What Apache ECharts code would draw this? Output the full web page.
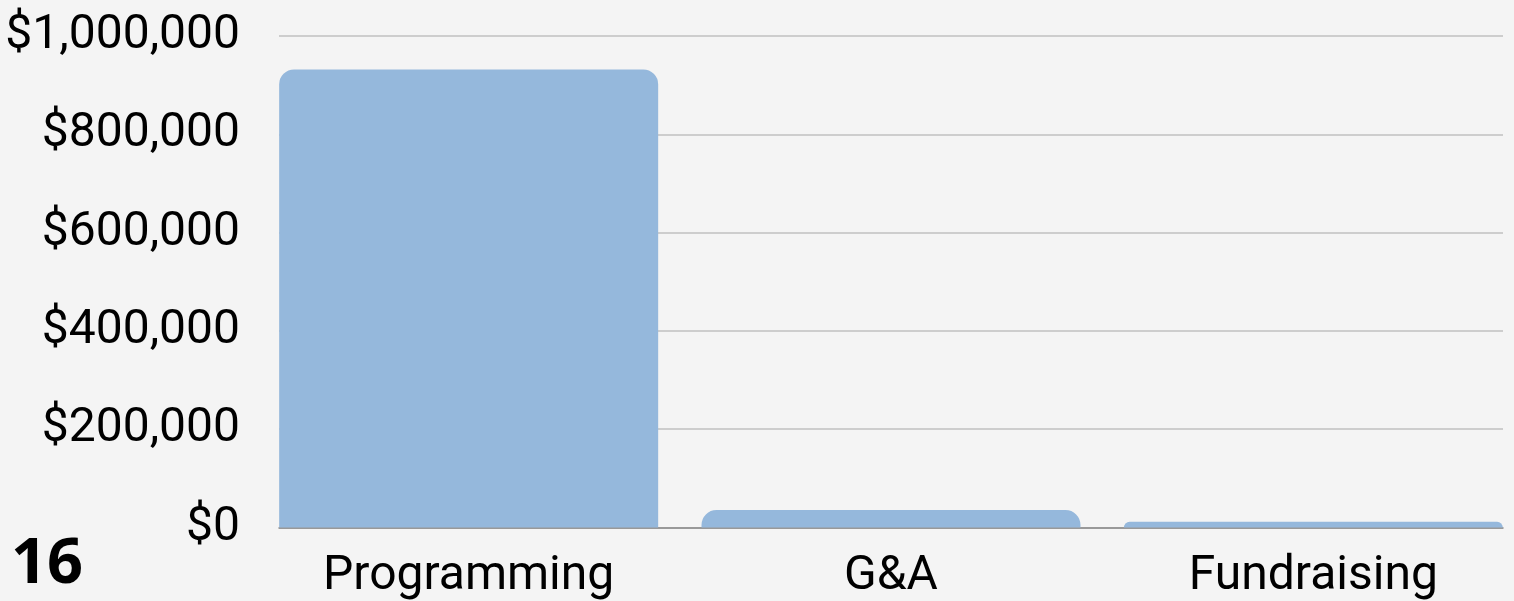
<!DOCTYPE html>
<html lang="en">

<head>
    <meta charset="UTF-8">
    <title>expenses</title>
    <script src="https://cdn.jsdelivr.net/npm/echarts@6/dist/echarts.min.js"></script>
    <style>
        html, body { margin: 0; padding: 0; background: #f4f4f4; overflow: hidden; }
    </style>
</head>

<body>
    <!-- wider than the window so the last bar can run to the right edge of the gridlines -->
    <div id="main" style="width: 1540px; height: 601px;"></div>
    <script>
        var categories = ['Programming', 'G&A', 'Fundraising'];
        var expenses = [932000, 35600, 11800];
        var pageNumber = '16';

        function money(v) {
            return '$' + v.toLocaleString('en-US');
        }

        var myChart = echarts.init(document.getElementById('main'));

        myChart.setOption({
            backgroundColor: '#f4f4f4',
            animation: false,
            textStyle: { fontFamily: 'Roboto' },
            title: {
                text: pageNumber,
                left: 6,
                top: 529,
                textStyle: { fontFamily: 'Open Sans', fontWeight: 'bold', fontSize: 63, color: '#000' }
            },
            grid: [
                // grid for the gridlines and y labels
                { left: 279, width: 1224, top: 36, bottom: 73.5 },
                // wider grid for the bars so they sit flush at the edges
                { left: 257.5, width: 1267, top: 36, bottom: 73.5 }
            ],
            xAxis: [
                {
                    type: 'category', gridIndex: 0, data: categories,
                    axisLine: { lineStyle: { color: '#888', width: 1.5 } },
                    axisTick: { show: false },
                    axisLabel: { show: false }
                },
                {
                    type: 'category', gridIndex: 1, data: categories,
                    axisLine: { show: false },
                    axisTick: { show: false },
                    axisLabel: { fontSize: 48, color: '#000', margin: 25 }
                }
            ],
            yAxis: [
                {
                    type: 'value', gridIndex: 0, min: 0, max: 1000000, interval: 200000,
                    axisLabel: { fontSize: 48, color: '#000', margin: 39, formatter: money, padding: [6, 0, 0, 0] },
                    splitLine: { lineStyle: { color: '#c0c0c0', width: 1.5 } },
                    axisLine: { show: false },
                    axisTick: { show: false }
                },
                {
                    type: 'value', gridIndex: 1, min: 0, max: 1000000, interval: 200000,
                    show: false
                }
            ],
            series: [
                {
                    type: 'bar',
                    xAxisIndex: 1,
                    yAxisIndex: 1,
                    data: expenses,
                    barWidth: 379,
                    itemStyle: { color: '#95b8dc', borderRadius: [15, 15, 0, 0] }
                }
            ]
        });
    </script>
</body>

</html>
